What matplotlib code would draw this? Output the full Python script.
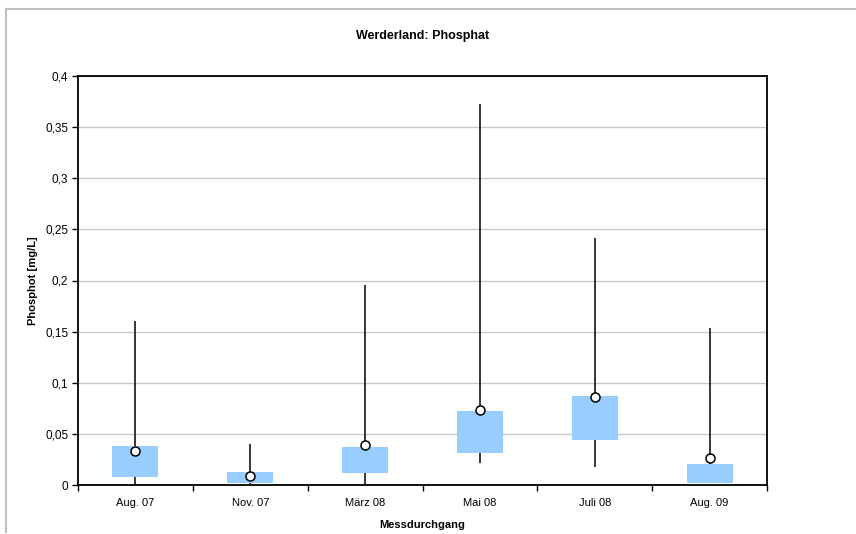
import matplotlib
matplotlib.use("Agg")
import matplotlib.pyplot as plt
from matplotlib.ticker import FuncFormatter, FixedLocator
from matplotlib.lines import Line2D
import numpy as np

plt.rcParams['font.family'] = ['Liberation Sans', 'DejaVu Sans']

categories = ["Aug. 07", "Nov. 07", "März 08", "Mai 08", "Juli 08", "Aug. 09"]
whisker_min = [0.000, 0.001, 0.000, 0.022, 0.018, 0.002]
box_low = [0.008, 0.002, 0.012, 0.031, 0.044, 0.002]
box_high = [0.038, 0.013, 0.037, 0.072, 0.087, 0.021]
whisker_max = [0.160, 0.040, 0.196, 0.373, 0.242, 0.154]
center_value = [0.033, 0.009, 0.039, 0.073, 0.086, 0.026]
y_ticks = [0.0, 0.05, 0.1, 0.15, 0.2, 0.25, 0.3, 0.35, 0.4]

fig = plt.figure(figsize=(8.56, 5.34), dpi=100)
ax = fig.add_axes([78 / 856, 1 - 485 / 534, (767 - 78) / 856, (485 - 76) / 534])

x = np.arange(len(categories))
low = np.array(box_low)
high = np.array(box_high)

ax.vlines(x, whisker_min, whisker_max, color='black', linewidth=1.1, zorder=2)
ax.bar(x, high - low, bottom=low, width=0.4, color='#99CCFF', zorder=3)
ax.plot(x, center_value, 'o', markersize=6.5, markerfacecolor='white',
        markeredgecolor='black', markeredgewidth=1.1, zorder=4)

ax.set_xlim(-0.5, len(categories) - 0.5)
ax.set_ylim(0, 0.4)
ax.yaxis.set_major_locator(FixedLocator(y_ticks))
ax.yaxis.set_major_formatter(FuncFormatter(lambda v, p: ('%g' % round(v, 3)).replace('.', ',')))
ax.grid(axis='y', color='#C8C8C8', linewidth=1.0, zorder=0)
ax.set_axisbelow(True)

ax.set_xticks(x)
ax.set_xticklabels(categories)
ax.set_xticks(np.arange(-0.5, len(categories), 1.0), minor=True)
ax.tick_params(axis='x', which='major', length=0, pad=9, labelsize=8)
ax.tick_params(axis='x', which='minor', length=4, width=1.0, direction='out')
ax.tick_params(axis='y', length=4, width=1.0, direction='out', labelsize=8.5, pad=3)

for s in ax.spines.values():
    s.set_linewidth(1.3)
    s.set_color('black')

ax.set_title("Werderland: Phosphat", fontsize=9, fontweight='bold', pad=27)
ax.set_xlabel("Messdurchgang", fontsize=8, fontweight='bold', labelpad=9)
ax.set_ylabel("Phosphot [mg/L]", fontsize=8, fontweight='bold', labelpad=5)

# outer chart frame
frame_color = '#C0C0C0'
fig.add_artist(Line2D([6 / 856, 1.0], [1 - 9 / 534, 1 - 9 / 534], color=frame_color, linewidth=1.5))
fig.add_artist(Line2D([6 / 856, 6 / 856], [1 - 9 / 534, 1 - 532 / 534], color=frame_color, linewidth=1.5))

fig.savefig("out.png", dpi=100)
